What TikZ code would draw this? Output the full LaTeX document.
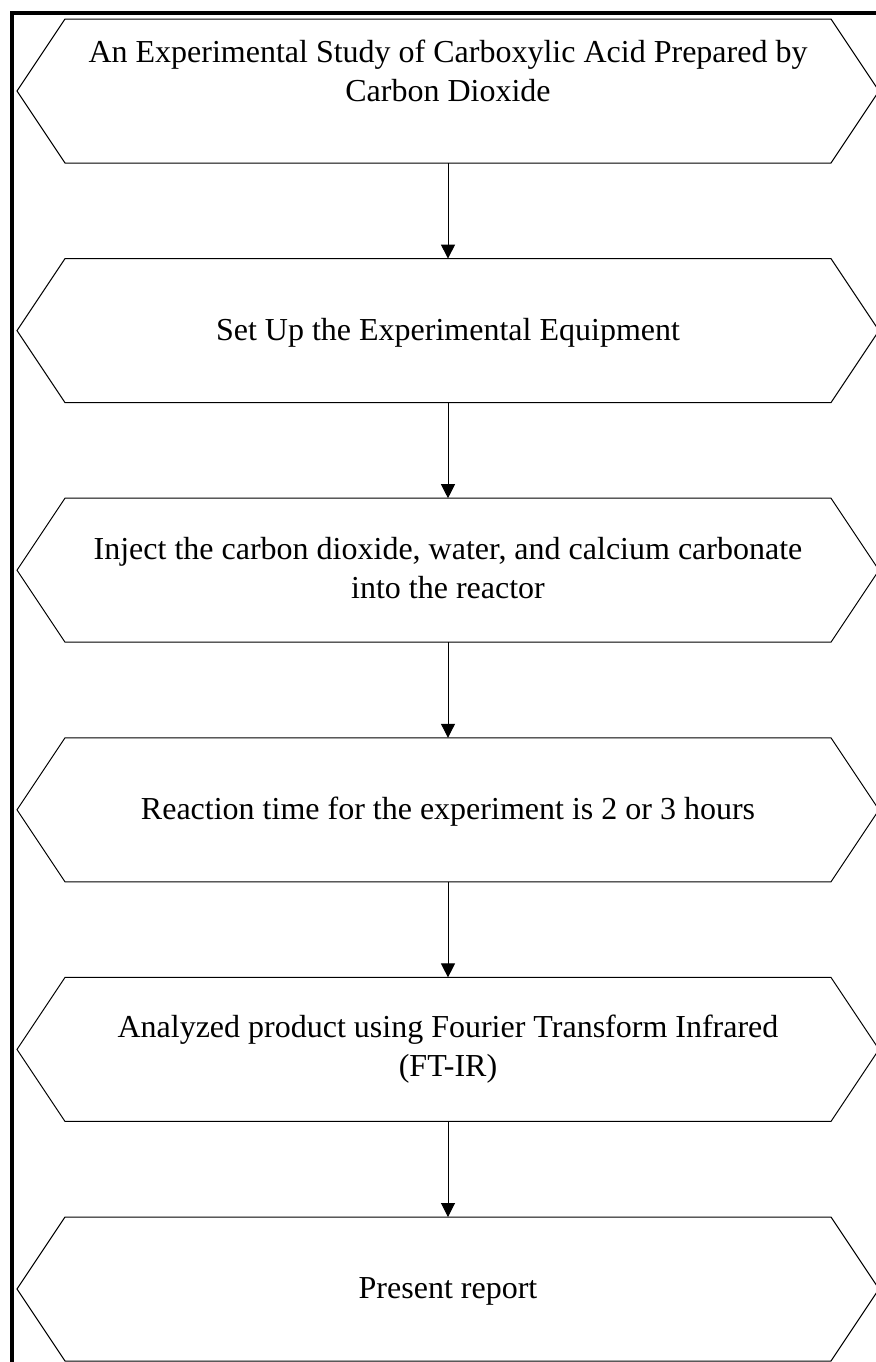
\documentclass[tikz,border=0pt]{standalone}
\usepackage{fontspec}
\setmainfont{Liberation Serif}
\usetikzlibrary{calc,arrows.meta}
\begin{document}
\begin{tikzpicture}[x=0.5pt,y=-0.5pt,
  hexbox/.style={draw=none, minimum width=383pt, minimum height=72pt, inner sep=0pt, outer sep=0pt},
  hexline/.style={line width=0.5pt, draw=black},
  lbl/.style={font=\fontsize{16}{19.5}\selectfont, align=center, anchor=base, inner sep=0pt},
  conn/.style={line width=0.5pt, draw=black, -{Triangle[width=7pt,length=7pt]}},
  frameline/.style={line width=2pt, draw=black}]
\useasboundingbox (0,0) rectangle (875,1362);
\fill[white] (0,0) rectangle (875,1362);
% frame
\draw[frameline] (10,13) -- (880,13);
\draw[frameline] (12,11) -- (12,1370);
% hexagon holders
\foreach \i/\cy in {1/91,2/330.6,3/570.2,4/809.8,5/1049.4,6/1289}{
  \node[hexbox] (h\i) at (448,\cy) {};
  \draw[hexline] (h\i.north west) -- (h\i.north east) -- ($(h\i.east)+(48,0)$)
     -- (h\i.south east) -- (h\i.south west) -- ($(h\i.west)-(48,0)$) -- cycle;
}
% texts (base anchor = baseline of last line)
\node[lbl] (t1) at (448,101) {An Experimental Study of Carboxylic Acid Prepared by\\Carbon Dioxide};
\node[lbl] (t2) at (448,340) {Set Up the Experimental Equipment};
\node[lbl] (t3) at (448,598) {Inject the carbon dioxide, water, and calcium carbonate\\into the reactor};
\node[lbl] (t4) at (448,819) {Reaction time for the experiment is 2 or 3 hours};
\node[lbl] (t5) at (448,1076) {Analyzed product using Fourier Transform Infrared\\(FT-IR)};
\node[lbl] (t6) at (448,1298) {Present report};
% connectors
\foreach \a/\b in {1/2,2/3,3/4,4/5,5/6}{
  \draw[conn] (h\a.south) -- (h\b.north);
}
\end{tikzpicture}
\end{document}
